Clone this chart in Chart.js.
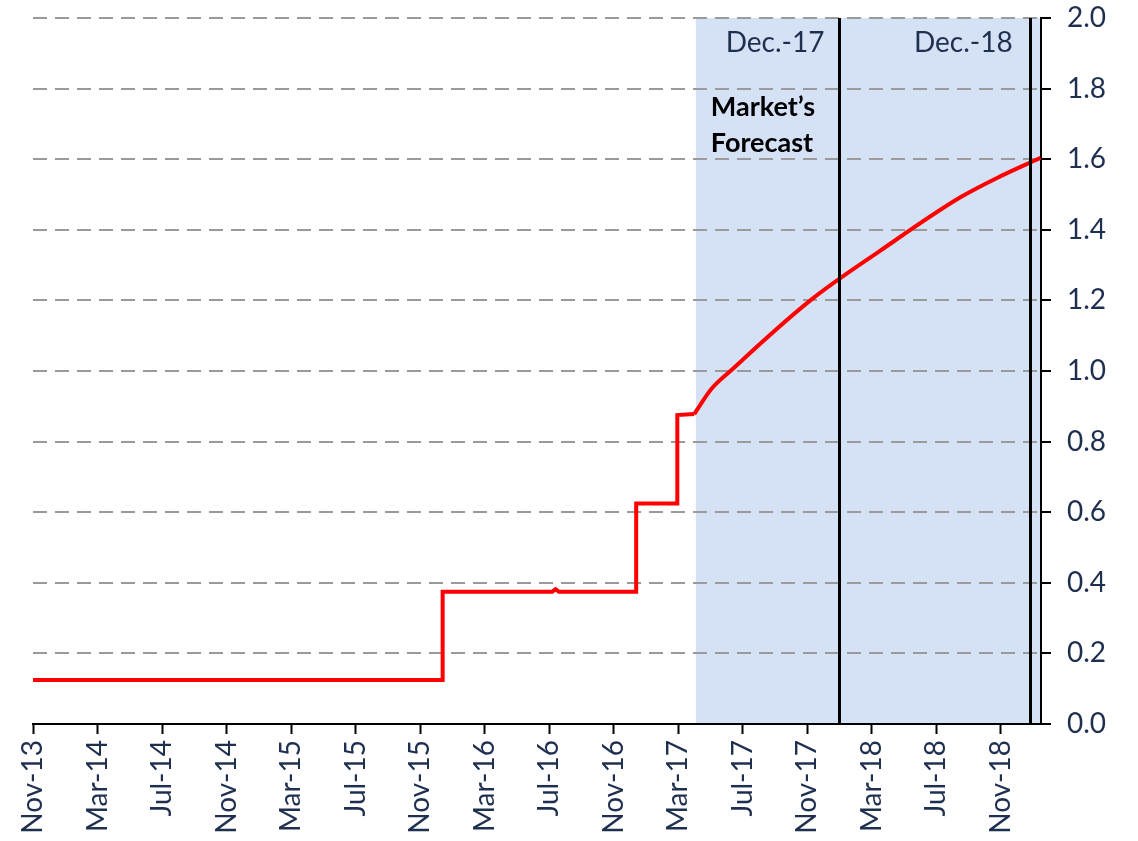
<!DOCTYPE html>
<html>
<head>
<meta charset="utf-8">
<script src="https://cdn.jsdelivr.net/npm/chart.js@4/dist/chart.umd.min.js"></script>
<style>
  html, body { margin: 0; padding: 0; background: #fff; }
  #wrap { width: 1138px; height: 841px; }
</style>
</head>
<body>
<div id="wrap"><canvas id="myChart" width="1138" height="841"></canvas></div>
<script>
// months counted from Nov-13 (0)
const tickMonths = [0, 4, 8, 12, 16, 20, 24, 28, 32, 36, 40, 44, 48, 52, 56, 60];
const tickLabels = ["Nov-13", "Mar-14", "Jul-14", "Nov-14", "Mar-15", "Jul-15", "Nov-15", "Mar-16",
  "Jul-16", "Nov-16", "Mar-17", "Jul-17", "Nov-17", "Mar-18", "Jul-18", "Nov-18"];

// policy rate, actual steps
const actualMonths = [0, 25.4, 25.4, 32.2, 32.4, 32.6, 37.4, 37.4, 39.95, 39.95, 41.0];
const actualValues = [0.125, 0.125, 0.375, 0.375, 0.382, 0.375, 0.375, 0.625, 0.625, 0.875, 0.878];

// market forecast
const forecastMonths = [41.0, 42.06, 43.24, 48.2, 52.54, 57.5, 60.0, 62.47];
const forecastValues = [0.878, 0.949, 1.0, 1.2, 1.341, 1.492, 1.552, 1.604];

const forecastStart = 41.1;
const dec17 = 50.0;
const dec18 = 61.8;

const navy = "#1f2f4f";
const fontFam = "Lato, 'Open Sans', sans-serif";

function toPoints(xs, ys) {
  return xs.map(function (m, i) { return { x: m, y: ys[i] }; });
}

const shading = {
  id: "shading",
  beforeDraw(chart) {
    const c = chart.ctx, a = chart.chartArea, xs = chart.scales.x;
    const x0 = xs.getPixelForValue(forecastStart);
    c.save();
    c.fillStyle = "#d5e1f4";
    c.fillRect(x0, a.top, a.right - x0, a.bottom - a.top);
    c.restore();
  },
  afterDatasetsDraw(chart) {
    const c = chart.ctx, a = chart.chartArea, xs = chart.scales.x, ys = chart.scales.y;
    c.save();
    c.strokeStyle = "#000";
    c.lineWidth = 3;
    [dec17, dec18].forEach(function (m) {
      const x = Math.round(xs.getPixelForValue(m)) + 0.5;
      c.beginPath();
      c.moveTo(x, a.top);
      c.lineTo(x, a.bottom);
      c.stroke();
    });
    // labels
    c.font = "28px " + fontFam;
    c.fillStyle = navy;
    c.textAlign = "right";
    c.textBaseline = "middle";
    c.fillText("Dec.-17", xs.getPixelForValue(dec17) - 15, ys.getPixelForValue(1.93));
    c.fillText("Dec.-18", xs.getPixelForValue(dec18) - 17, ys.getPixelForValue(1.93));
    c.font = "bold 27px " + fontFam;
    c.fillStyle = "#000";
    c.textAlign = "left";
    const xl = xs.getPixelForValue(forecastStart) + 15;
    c.fillText("Market\u2019s", xl, ys.getPixelForValue(1.747));
    c.fillText("Forecast", xl, ys.getPixelForValue(1.645));
    c.restore();
  }
};

const ctx = document.getElementById("myChart");
new Chart(ctx, {
  type: "line",
  data: {
    datasets: [
      {
        label: "Actual",
        data: toPoints(actualMonths, actualValues),
        borderColor: "#ff0000",
        borderWidth: 4,
        pointRadius: 0,
        tension: 0,
        fill: false,
      },
      {
        label: "Forecast",
        data: toPoints(forecastMonths, forecastValues),
        borderColor: "#ff0000",
        borderWidth: 4,
        pointRadius: 0,
        cubicInterpolationMode: "monotone",
        fill: false,
      },
    ],
  },
  options: {
    responsive: false,
    animation: false,
    layout: { padding: { left: 33, top: 18, right: 0, bottom: 0 } },
    plugins: {
      legend: { display: false },
      tooltip: { enabled: false },
    },
    scales: {
      x: {
        type: "linear",
        min: 0,
        max: 62.5,
        afterBuildTicks: function (scale) {
          scale.ticks = tickMonths.map(function (v) { return { value: v }; });
        },
        afterFit: function (scale) { scale.height = 117; },
        ticks: {
          autoSkip: false,
          minRotation: 90,
          maxRotation: 90,
          padding: 6,
          color: navy,
          font: { size: 28, family: fontFam },
          callback: function (v) {
            const i = tickMonths.indexOf(v);
            return i >= 0 ? tickLabels[i] : "";
          },
        },
        grid: {
          display: true,
          drawOnChartArea: false,
          drawTicks: true,
          tickLength: 10,
          tickColor: "#000",
          tickWidth: 2,
        },
        border: { display: true, color: "#000", width: 2 },
      },
      y: {
        position: "right",
        min: 0,
        max: 2,
        afterFit: function (scale) {
          scale.width = 97;
          scale.paddingTop = 0;
          scale.paddingBottom = 0;
        },
        ticks: {
          stepSize: 0.2,
          padding: 16,
          color: navy,
          font: { size: 28, family: fontFam },
          callback: function (v) { return v.toFixed(1); },
        },
        grid: {
          color: "#9a9a9a",
          lineWidth: 2,
          drawTicks: true,
          tickLength: 10,
          tickColor: "#000",
          tickWidth: 2,
          tickBorderDash: [],
        },
        border: { display: true, color: "#000", width: 2, dash: [14, 8] },
      },
    },
  },
  plugins: [shading],
});
</script>
</body>
</html>
